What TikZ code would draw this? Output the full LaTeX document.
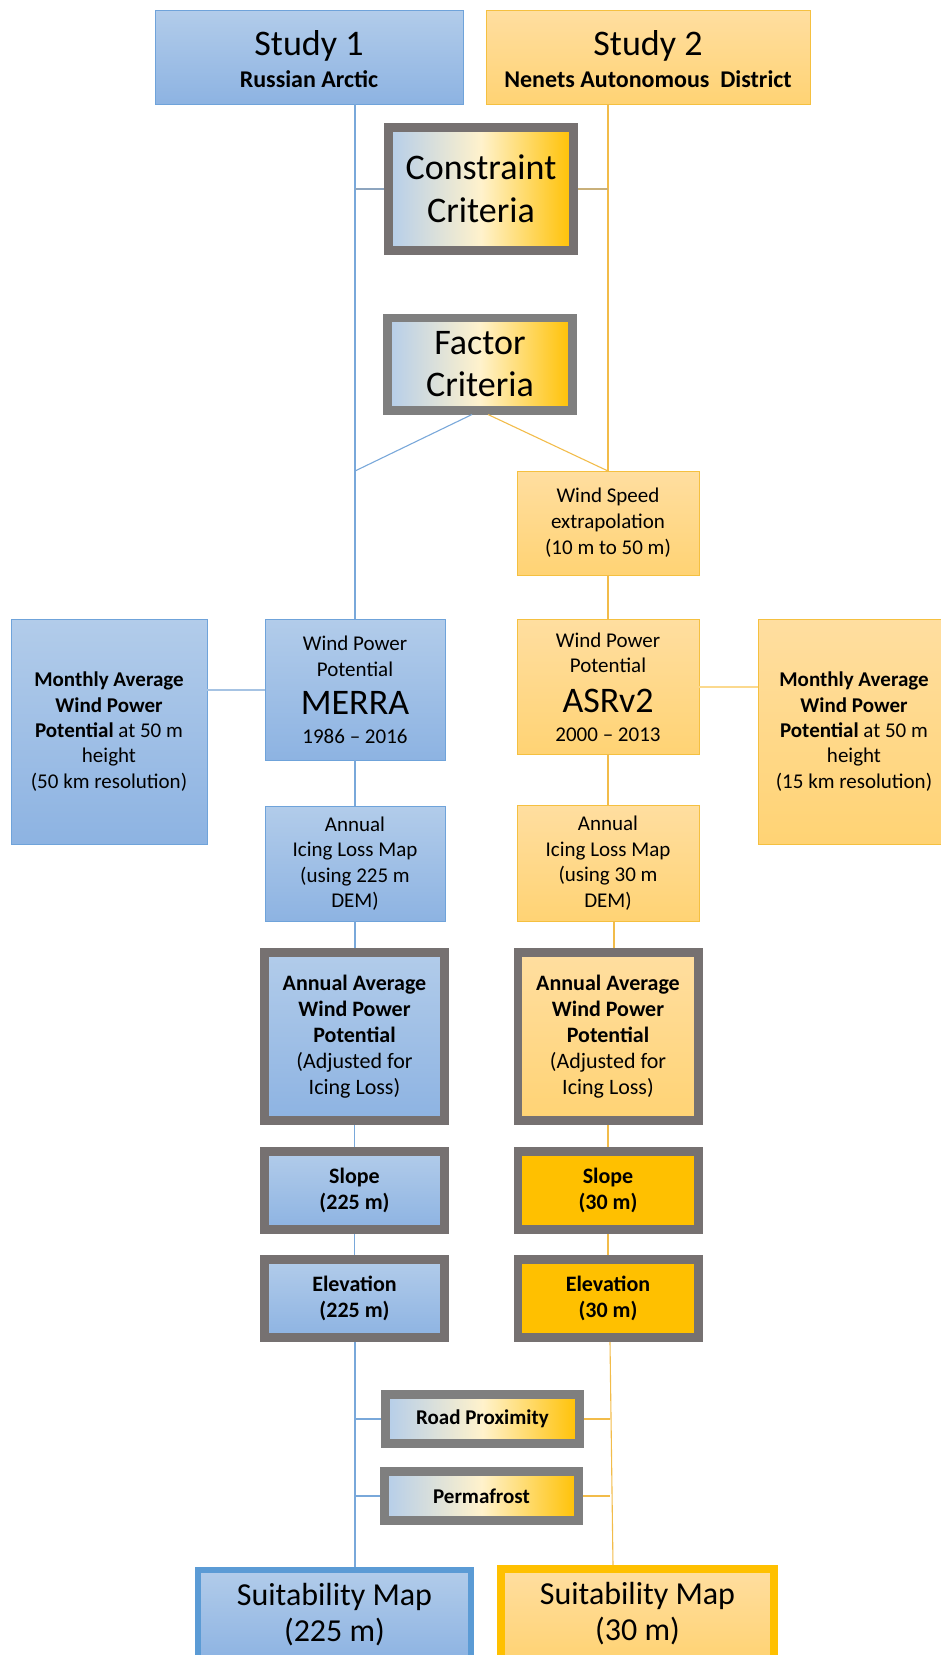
\documentclass[tikz,border=0pt]{standalone}
\usepackage{fontspec}
\setmainfont{Carlito}
\definecolor{bluetop}{HTML}{B2CCEA}
\definecolor{bluebot}{HTML}{8DB3E2}
\definecolor{blueedge}{HTML}{6FA3DA}
\definecolor{yeltop}{HTML}{FFDEA0}
\definecolor{yelbot}{HTML}{FFD374}
\definecolor{yeledge}{HTML}{F5C040}
\definecolor{gold}{HTML}{FFC000}
\definecolor{graybord}{HTML}{767171}
\definecolor{critgray}{HTML}{7F7F7F}
\definecolor{critblue}{HTML}{B4CDEA}
\definecolor{cream}{HTML}{FFF2CC}
\definecolor{lineblue}{HTML}{79A8DA}
\definecolor{lineyel}{HTML}{F2BC4A}
\definecolor{suitblue}{HTML}{5B9BD5}
\definecolor{connblue}{HTML}{8DA5BF}
\definecolor{connyel}{HTML}{C9B07A}
\definecolor{sideblue}{HTML}{A6C3E3}
\definecolor{sideyel}{HTML}{FBD98E}
\newcommand\myfs[2]{\fontsize{#1}{#2}\selectfont}
\begin{document}
\begin{tikzpicture}[x=1pt,y=-1pt,
  bluebox/.style={draw=blueedge, line width=0.9pt, top color=bluetop, bottom color=bluebot,
    inner sep=0pt, outer sep=0pt, align=center},
  yelbox/.style={draw=yeledge, line width=0.9pt, top color=yeltop, bottom color=yelbot,
    inner sep=0pt, outer sep=0pt, align=center},
  thickbox/.style={draw=graybord, line width=8.6pt, inner sep=0pt, outer sep=4.3pt, align=center},
  critbox/.style={thickbox, draw=critgray, left color=critblue, right color=gold, middle color=cream},
  blueline/.style={draw=lineblue, line width=1.1pt},
  yelline/.style={draw=lineyel, line width=1.1pt},
  blueconn/.style={draw=connblue, line width=2.2pt},
  yelconn/.style={draw=connyel, line width=2.2pt},
  bluesideconn/.style={draw=sideblue, line width=2pt},
  yelsideconn/.style={draw=sideyel, line width=2pt},
  txt/.style={inner sep=0pt, outer sep=0pt, anchor=base}
]
\useasboundingbox (0,0) rectangle (941,1655);

% top study boxes
\node[bluebox, minimum width=308pt, minimum height=94pt] (study1) at (309,57) {};
\node[yelbox, minimum width=324pt, minimum height=94pt] (study2) at (648,57) {};
\node[txt] (s1a) at (309,55) {\myfs{36}{40}Study 1};
\node[txt] (s1b) at (309,87) {\myfs{24}{28}\bfseries Russian Arctic};
\node[txt] (s2a) at (648,55) {\myfs{36}{40}Study 2};
\node[txt] (s2b) at (648,87) {\myfs{24}{28}\bfseries Nenets Autonomous\ \ District};

% criteria
\node[critbox, draw=graybord, minimum width=185.4pt, minimum height=123.4pt, font=\myfs{36}{43}] (constraint) at (481,189) {Constraint\\Criteria};
\node[critbox, minimum width=185.4pt, minimum height=92.4pt, font=\myfs{36}{42}] (factor) at (480,364) {Factor\\Criteria};

% wind speed
\node[yelbox, minimum width=182pt, minimum height=104pt, font=\myfs{21}{26}] (windspeed) at (608,523) {Wind Speed\\extrapolation\\(10 m to 50 m)};

% wind power potential
\node[bluebox, minimum width=180pt, minimum height=141pt] (merra) at (355,689.5) {};
\node[txt] (m1) at (355,650) {\myfs{21}{25}Wind Power};
\node[txt] (m2) at (355,676) {\myfs{21}{25}Potential};
\node[txt] (m3) at (355,714) {\myfs{36}{40}MERRA};
\node[txt] (m4) at (355,743) {\myfs{21}{25}1986 -- 2016};

\node[yelbox, minimum width=182pt, minimum height=135pt] (asr) at (608,686.5) {};
\node[txt] (a1) at (608,647) {\myfs{21}{25}Wind Power};
\node[txt] (a2) at (608,672) {\myfs{21}{25}Potential};
\node[txt] (a3) at (608,712) {\myfs{36}{40}ASRv2};
\node[txt] (a4) at (608,741) {\myfs{21}{25}2000 -- 2013};

% monthly boxes
\node[bluebox, minimum width=196pt, minimum height=225pt, font=\myfs{21}{25.3}] (monthly1) at (109,731.5)
  {\textbf{Monthly Average}\\\textbf{Wind Power}\\\textbf{Potential} at 50 m\\height\\(50 km resolution)};
\node[yelbox, minimum width=192pt, minimum height=225pt, font=\myfs{21}{25.3}] (monthly2) at (854,731.5)
  {\textbf{Monthly Average}\\\textbf{Wind Power}\\\textbf{Potential} at 50 m\\height\\(15 km resolution)};

% icing
\node[bluebox, minimum width=180pt, minimum height=115pt, font=\myfs{21}{25.5}] (icing1) at (355,863.5)
  {Annual\\Icing Loss Map\\(using 225 m\\DEM)};
\node[yelbox, minimum width=182pt, minimum height=116pt, font=\myfs{21}{25.5}] (icing2) at (608,863)
  {Annual\\Icing Loss Map\\(using 30 m\\DEM)};

% annual average
\node[thickbox, top color=bluetop, bottom color=bluebot, minimum width=180.4pt, minimum height=168.4pt, font=\myfs{22}{26}] (annual1) at (354.5,1036.5)
  {\textbf{Annual Average}\\\textbf{Wind Power}\\\textbf{Potential}\\(Adjusted for\\Icing Loss)};
\node[thickbox, top color=yeltop, bottom color=yelbot, minimum width=180.4pt, minimum height=168.4pt, font=\myfs{22}{26}] (annual2) at (608,1036.5)
  {\textbf{Annual Average}\\\textbf{Wind Power}\\\textbf{Potential}\\(Adjusted for\\Icing Loss)};

% slope & elevation
\node[thickbox, top color=bluetop, bottom color=bluebot, minimum width=180.4pt, minimum height=78.4pt, font=\myfs{22}{26.5}\bfseries] (slope1) at (354.5,1190.5) {Slope\\(225 m)};
\node[thickbox, fill=gold, minimum width=180.4pt, minimum height=78.4pt, font=\myfs{22}{26.5}\bfseries] (slope2) at (608,1190.5) {Slope\\(30 m)};
\node[thickbox, top color=bluetop, bottom color=bluebot, minimum width=180.4pt, minimum height=78.4pt, font=\myfs{22}{26.5}\bfseries] (elev1) at (354.5,1298.5) {Elevation\\(225 m)};
\node[thickbox, fill=gold, minimum width=180.4pt, minimum height=78.4pt, font=\myfs{22}{26.5}\bfseries] (elev2) at (608,1298.5) {Elevation\\(30 m)};

% road, permafrost
\node[critbox, minimum width=194.4pt, minimum height=49.4pt, font=\myfs{21}{25}\bfseries] (road) at (482.5,1419) {Road Proximity};
\node[critbox, minimum width=194.4pt, minimum height=49.4pt, font=\myfs{21}{25}\bfseries] (perm) at (481.5,1496) {Permafrost};

% suitability
\node[draw=suitblue, line width=6pt, outer sep=3pt, inner sep=0pt, top color=bluetop, bottom color=bluebot,
  minimum width=273pt, minimum height=90pt, align=center, font=\myfs{32}{36}] (suit1) at (334.5,1615) {Suitability Map\\(225 m)};
\node[draw=gold, line width=8pt, outer sep=4pt, inner sep=0pt, top color=yeltop, bottom color=yelbot,
  minimum width=273pt, minimum height=90pt, align=center, font=\myfs{32}{36}] (suit2) at (637.5,1614) {Suitability Map\\(30 m)};

% connectors
\coordinate (fb) at (merra.north |- windspeed.north);
\coordinate (ybot) at ([xshift=2pt]elev2.south);
\coordinate (ysuit) at ([xshift=5pt]elev2.south |- suit2.north);
\draw[blueline] (study1.south -| merra.north) -- (merra.north);
\draw[yelline] (study2.south -| windspeed.north) -- (windspeed.north);
\draw[blueconn] (constraint.west) -- (constraint.west -| merra.north);
\draw[yelconn] (constraint.east) -- (constraint.east -| windspeed.north);
\draw[blueline] ([xshift=-8pt]factor.south) -- (fb);
\draw[yelline] ([xshift=8pt]factor.south) -- (windspeed.north);
\draw[yelline] (windspeed.south) -- (asr.north);
\draw[bluesideconn] (merra.west) -- (merra.west -| monthly1.east);
\draw[yelsideconn] (asr.east) -- (asr.east -| monthly2.west);
\draw[blueline] (merra.south) -- (icing1.north);
\draw[yelline] (asr.south) -- (icing2.north);
\draw[blueline] (icing1.south) -- (icing1.south |- annual1.north);
\draw[yelline] ([xshift=6pt]icing2.south) -- ([xshift=6pt]icing2.south |- annual2.north);
\draw[blueline] (annual1.south) -- (slope1.north);
\draw[blueline] (slope1.south) -- (elev1.north);
\draw[yelline] (annual2.south) -- (slope2.north);
\draw[yelline] (slope2.south) -- (elev2.north);
\draw[blueline] (merra.north |- elev1.south) -- (merra.north |- suit1.north);
\draw[yelline] (ybot) -- (ysuit);
\draw[blueline, line width=1.5pt] (road.west) -- (road.west -| merra.north);
\draw[yelline, line width=1.5pt] (road.east) -- (road.east -| ybot);
\draw[blueline, line width=1.5pt] (perm.west) -- (perm.west -| merra.north);
\draw[yelline, line width=1.5pt] (perm.east) -- (perm.east -| ybot);
\end{tikzpicture}
\end{document}
